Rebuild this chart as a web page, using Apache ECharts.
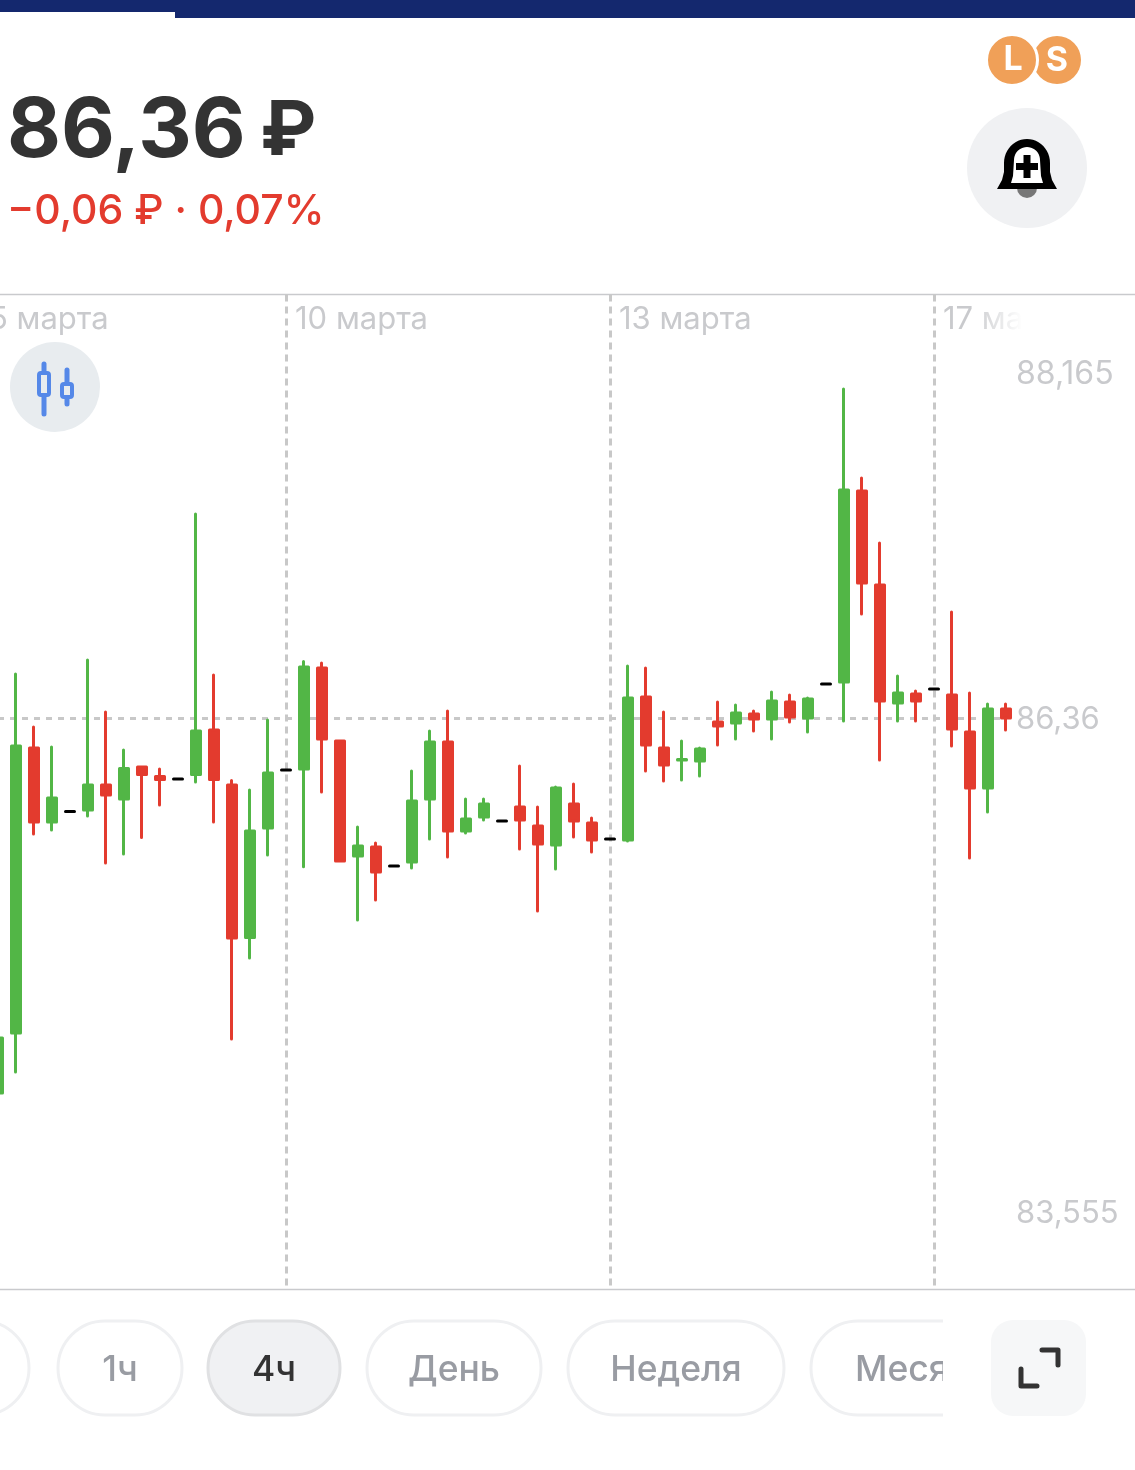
<!DOCTYPE html>
<html><head><meta charset="utf-8">
<style>html,body{margin:0;padding:0;background:#fff}#c{width:1135px;height:1470px}</style>
<script src="https://cdn.jsdelivr.net/npm/echarts@6/dist/echarts.min.js"></script>
</head><body><div id="c"></div>
<script>
// Bars start one category after the first date tick ("5 марта").
const dateTicks = {0:'5 марта', 17:'10 марта', 35:'13 марта', 53:'17 марта'};
const categoryCount = 66;
const opens  = [84.322,84.648,86.197,85.795,85.852,85.860,85.996,85.920,86.094,86.042,86.028,86.053,86.295,85.996,85.167,85.762,86.077,86.083,86.632,86.235,85.610,85.659,85.556,85.577,85.920,86.230,85.746,85.822,85.800,85.876,85.773,85.670,85.893,85.789,85.702,85.697,86.474,86.197,86.132,86.126,86.338,86.333,86.382,86.355,86.447,86.360,86.545,86.556,87.594,87.083,86.442,86.490,86.518,86.485,86.284,85.980,86.409];
const closes = [84.621,86.208,85.795,85.925,85.852,85.996,85.942,86.086,86.053,86.026,86.028,86.289,86.026,85.164,85.746,86.061,86.077,86.637,86.246,85.583,85.664,85.523,85.556,85.909,86.230,85.746,85.811,85.893,85.800,85.806,85.675,85.980,85.800,85.697,85.702,86.469,86.213,86.105,86.134,86.192,86.317,86.387,86.355,86.452,86.365,86.463,86.545,87.599,87.094,86.452,86.496,86.452,86.518,86.300,85.980,86.409,86.360];
const lows   = [84.316,84.436,85.730,85.751,85.852,85.827,85.572,85.621,85.711,85.887,86.028,86.012,85.795,84.615,85.056,85.615,86.077,85.552,85.958,85.583,85.262,85.371,85.556,85.545,85.702,85.605,85.735,85.806,85.800,85.648,85.311,85.539,85.713,85.632,85.702,85.691,86.072,86.018,86.023,86.045,86.213,86.246,86.289,86.246,86.338,86.284,86.545,86.344,86.925,86.132,86.344,86.344,86.518,86.208,85.599,85.849,86.295];
const highs  = [84.626,86.599,86.311,86.202,85.852,86.675,86.393,86.186,86.094,86.083,86.028,87.469,86.594,86.020,85.969,86.349,86.077,86.667,86.659,86.235,85.768,85.681,85.556,86.072,86.289,86.398,85.920,85.920,85.800,86.099,85.876,85.985,86.001,85.817,85.702,86.643,86.632,86.393,86.235,86.197,86.447,86.431,86.398,86.501,86.485,86.469,86.545,88.148,87.664,87.311,86.588,86.507,86.518,86.936,86.496,86.436,86.436];
const priceTicks = [83.555, 86.36, 88.165];
const priceTickLabels = ['83,555', '86,36', '88,165'];
const currentPrice = 86.36;
const timeframes = ['1ч', '4ч', 'День', 'Неделя', 'Месяц'];

const GREEN = '#52b646', RED = '#e33b2e', GREY = '#c9cacd', DARK = '#333333';
const FONT = 'Inter, "Noto Sans", sans-serif';

const categories = Array.from({length: categoryCount}, (_, i) => dateTicks[i] || '');
const candles = categories.map((_, i) => i >= 1 && i <= opens.length
  ? [opens[i-1], closes[i-1], lows[i-1], highs[i-1]] : '-');
const isDateTick = (i) => dateTicks[i] !== undefined;

// decorations
function ellipseArc(cx, cy, rx, ry, n) {
  const pts = [];
  for (let i = 0; i <= n; i++) {
    const a = Math.PI + Math.PI * i / n;
    pts.push([cx + rx * Math.cos(a), cy + ry * Math.sin(a)]);
  }
  return pts;
}
const bellOuter = [[997,189],[1002,180],[1004,172]].concat(ellipseArc(1027,163,23,24,24),[[1050,172],[1052,180],[1057,189]]);
const bellInner = [[1011,183],[1013,176]].concat(ellipseArc(1027,160,13,13,20),[[1041,176],[1043,183]]);

function txt(text, x, y, size, weight, fill, align) {
  return {type:'text', x, y, style:{text, fill, font: weight+' '+size+'px '+FONT, align: align||'left', verticalAlign:'middle'}};
}
function pill(x, w, fill, stroke, label, labelColor) {
  const out = [{type:'rect', shape:{x:x, y:1321, width:w, height:94, r:47}, style:{fill, stroke, lineWidth:3}}];
  if (label) out.push(txt(label, x + w/2, 1370, 35.5, 500, labelColor, 'center'));
  return out;
}
function bracket(points) {
  return {type:'polyline', shape:{points}, style:{stroke:DARK, lineWidth:5, fill:null, lineCap:'round', lineJoin:'round'}};
}

const graphics = [
  {type:'rect', shape:{x:0,y:0,width:1135,height:12}, style:{fill:'#14286e'}},
  {type:'rect', shape:{x:175,y:12,width:960,height:6}, style:{fill:'#14286e'}},
  txt('86,36', 7, 132, 83, 700, DARK),
  txt('₽', 260, 132, 76, 700, DARK),
  txt('−0,06 ₽ · 0,07%', 7, 212, 41, 500, RED),
  {type:'circle', shape:{cx:1057,cy:60,r:24}, style:{fill:'#f0a058'}},
  {type:'circle', shape:{cx:1012,cy:60,r:25.5}, style:{fill:'#f0a058', stroke:'#fff', lineWidth:3}},
  txt('L', 1013, 60, 34, 700, '#fff', 'center'),
  txt('S', 1057, 61, 34, 700, '#fff', 'center'),
  {type:'circle', shape:{cx:1027,cy:168,r:60}, style:{fill:'#f0f1f3'}},
  {type:'circle', shape:{cx:1027,cy:188,r:10}, style:{fill:'#777'}},
  {type:'polygon', shape:{points:bellOuter}, style:{fill:'#000'}},
  {type:'polygon', shape:{points:bellInner}, style:{fill:'#fff'}},
  {type:'rect', shape:{x:1016,y:163,width:22,height:7}, style:{fill:'#000'}},
  {type:'rect', shape:{x:1023.5,y:155,width:7,height:23}, style:{fill:'#000'}},
  // candle-type button
  {type:'circle', shape:{cx:55,cy:387,r:45}, style:{fill:'#e8ecef'}},
  {type:'line', shape:{x1:44,y1:364,x2:44,y2:414}, style:{stroke:'#5588e8', lineWidth:5, lineCap:'round'}},
  {type:'rect', shape:{x:39,y:373,width:10,height:22,r:2}, style:{fill:'#e8ecef', stroke:'#5588e8', lineWidth:4}},
  {type:'line', shape:{x1:67,y1:370,x2:67,y2:404}, style:{stroke:'#5588e8', lineWidth:5, lineCap:'round'}},
  {type:'rect', shape:{x:62,y:384,width:10,height:13,r:2}, style:{fill:'#e8ecef', stroke:'#5588e8', lineWidth:4}},
  // fade-out over the last date label
  {type:'rect', z:1000, shape:{x:972,y:300,width:120,height:38}, style:{fill:{type:'linear',x:0,y:0,x2:1,y2:0,colorStops:[{offset:0,color:'rgba(255,255,255,0)'},{offset:0.42,color:'rgba(255,255,255,1)'},{offset:1,color:'#fff'}]}}},
  // timeframe pills
  {type:'rect', shape:{x:-90,y:1321,width:119,height:94,r:47}, style:{fill:'#fff', stroke:'#eff0f2', lineWidth:3}},
  ...pill(58, 124, '#fff', '#eff0f2', timeframes[0], '#999ca3'),
  ...pill(208, 132, '#f0f1f3', '#e0e1e3', timeframes[1], DARK),
  ...pill(367, 174, '#fff', '#eff0f2', timeframes[2], '#999ca3'),
  ...pill(568, 216, '#fff', '#eff0f2', timeframes[3], '#999ca3'),
  {type:'rect', shape:{x:811,y:1321,width:240,height:94,r:47}, style:{fill:'#fff', stroke:'#eff0f2', lineWidth:3}},
  txt(timeframes[4], 855, 1370, 35.5, 500, '#999ca3'),
  {type:'rect', shape:{x:943,y:1316,width:192,height:104}, style:{fill:'#fff'}},
  {type:'rect', shape:{x:991,y:1320,width:95,height:96,r:22}, style:{fill:'#f6f7f8'}},
  bracket([[1042,1350],[1058,1350],[1058,1365]]),
  bracket([[1021,1369],[1021,1386],[1037,1386]])
];

const chart = echarts.init(document.getElementById('c'), null, {renderer:'canvas', width:1135, height:1470});
chart.setOption({
  animation:false,
  backgroundColor:'#fff',
  grid:{left:-20, top:294.5, width:1170, height:995, outerBoundsMode:'none', show:true, borderColor:'#c9cacd', borderWidth:1.5, backgroundColor:'transparent'},
  xAxis:{
    type:'category', position:'top', boundaryGap:false, data:categories,
    axisLine:{show:false}, axisTick:{show:false},
    axisLabel:{inside:true, margin:10, interval:(i)=>isDateTick(i), align:'left', padding:[0,0,0,9], color:GREY, fontFamily:FONT, fontSize:31, showMinLabel:true, hideOverlap:false},
    splitLine:{show:true, interval:(i)=>isDateTick(i), lineStyle:{color:'#c8c8c8', width:3, type:[7,5]}}
  },
  yAxis:{
    type:'value', position:'right', min:83.254, max:88.662, scale:true,
    axisLine:{show:false}, axisTick:{show:false}, splitLine:{show:false},
    axisLabel:{
      inside:true, margin:134, align:'left', color:GREY, fontFamily:FONT, fontSize:32,
      customValues:priceTicks,
      formatter:(v)=>{
        const i = priceTicks.indexOf(v);
        return '{t'+i+'|'+priceTickLabels[i]+'}';
      },
      rich:{
        t0:{fontSize:31, fontFamily:FONT, color:GREY, padding:[2,0,42,0]},
        t1:{fontSize:31, fontFamily:FONT, color:GREY, padding:[4,0,0,0]},
        t2:{fontSize:32, fontFamily:FONT, color:GREY, padding:[2,0,26,0]}
      }
    }
  },
  series:[{
    type:'candlestick', data:candles, barWidth:9, clip:true, large:false,
    itemStyle:{color:GREEN, color0:RED, borderColor:GREEN, borderColor0:RED, borderColorDoji:'#000000', borderWidth:3, borderCap:'round', borderJoin:'round'},
    markLine:{silent:true, symbol:'none', z:1, label:{show:false},
      lineStyle:{color:'#c8c8c8', width:3, type:[6,6]},
      data:[[{coord:[1,currentPrice]},{coord:[opens.length,currentPrice]}]]}
  }],
  graphic:{elements:graphics}
});
</script></body></html>
